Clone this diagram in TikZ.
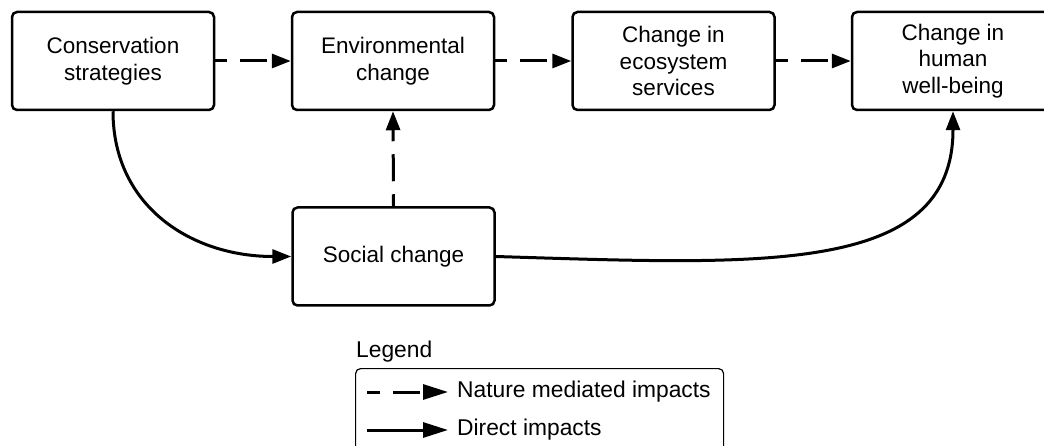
\documentclass[tikz,border=0pt]{standalone}
\usepackage{fontspec}
\setmainfont{Liberation Sans}
\usetikzlibrary{arrows.meta}
\begin{document}
\begin{tikzpicture}[x=1pt,y=-1pt,
  box/.style={draw,line width=2.5pt,rounded corners=5pt,minimum width=202pt,minimum height=98pt,align=center,font=\fontsize{22.5}{26.5}\selectfont,inner sep=0pt},
  conn/.style={line width=3pt,-{Triangle[length=19pt,width=14pt]}},
  dashconn/.style={conn,dash pattern=on 27pt off 13pt,dash phase=15pt},
  lab/.style={font=\fontsize{22.8}{26}\selectfont,anchor=west,inner sep=0pt}]
\useasboundingbox (0,0) rectangle (1044,446);
\clip (0,0) rectangle (1044,446);
\node[box] (cs) at (113,61) {Conservation\\strategies};
\node[box] (ec) at (393,61) {Environmental\\change};
\node[box] (es) at (673.5,61) {Change in\\ecosystem\\services};
\node[box] (hw) at (953,61) {Change in\\human\\well-being};
\node[box] (sc) at (393.5,256.5) {Social change};
\draw[dashconn] (cs.east) -- (ec.west);
\draw[dashconn] (ec.east) -- (es.west);
\draw[dashconn] (es.east) -- (hw.west);
\draw[dashconn] (sc.north) -- (ec.south);
\draw[conn] (cs.south) .. controls +(0,95) and +(-100,0) .. (sc.west);
\draw[conn] (sc.east) .. controls +(265,8) and +(0,165) .. (hw.south);
% legend
\node[lab,anchor=base west] (lt) at (356,357) {Legend};
\node[draw,line width=1.2pt,rounded corners=5pt,minimum width=368pt,minimum height=100pt,anchor=north west,inner sep=0pt] (lg) at (355,368) {};
\coordinate (l1a) at (367,392);
\coordinate (l1b) at (448,392);
\coordinate (l2a) at (367,430);
\coordinate (l2b) at (448,430);
\draw[conn,dash pattern=on 27pt off 13pt,dash phase=14pt,-{Triangle[length=25pt,width=15pt]}] (l1a) -- (l1b);
\draw[conn,-{Triangle[length=25pt,width=15pt]}] (l2a) -- (l2b);
\node[lab] (n1) at (457,392) {Nature mediated impacts};
\node[lab] (n2) at (457,430) {Direct impacts};
\end{tikzpicture}
\end{document}
